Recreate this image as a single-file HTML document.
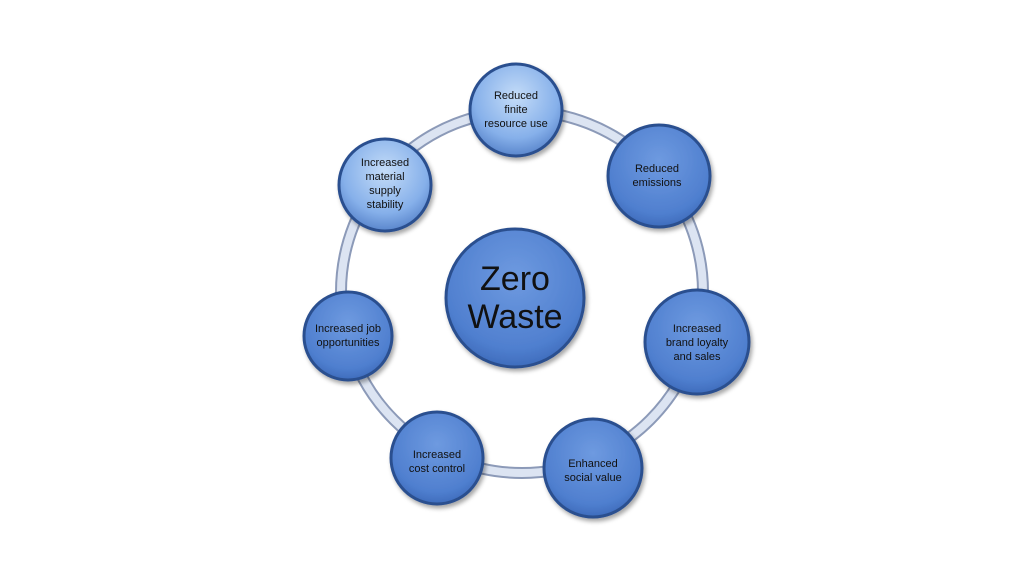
<!DOCTYPE html>
<html><head><meta charset="utf-8"><style>
html,body{margin:0;padding:0;background:#fff;}
svg{display:block;}
text{font-family:"Liberation Sans",sans-serif;fill:#111;text-anchor:middle;}
</style></head><body>
<svg width="1024" height="576" viewBox="0 0 1024 576">
<defs>
<radialGradient id="light" cx="0.5" cy="0.35" r="0.65">
<stop offset="0" stop-color="#c4dcf8"/><stop offset="0.7" stop-color="#86b0ea"/><stop offset="1" stop-color="#5a86cc"/>
</radialGradient>
<radialGradient id="mid" cx="0.5" cy="0.35" r="0.65">
<stop offset="0" stop-color="#6e9ae0"/><stop offset="0.8" stop-color="#4f7fcf"/><stop offset="1" stop-color="#3e6cbc"/>
</radialGradient>
<filter id="sh" x="-20%" y="-20%" width="140%" height="140%"><feDropShadow dx="2" dy="3" stdDeviation="2" flood-color="#000" flood-opacity="0.35"/></filter>
</defs>
<circle cx="522" cy="292" r="181" fill="none" stroke="#8c9ab8" stroke-width="12"/>
<circle cx="522" cy="292" r="181" fill="none" stroke="#dce4f2" stroke-width="8"/>
<g filter="url(#sh)" stroke="#2c4f8f" stroke-width="3">
<circle cx="515" cy="298" r="69" fill="url(#mid)"/>
<circle cx="516" cy="110" r="46" fill="url(#light)"/>
<circle cx="659" cy="176" r="51" fill="url(#mid)"/>
<circle cx="697" cy="342" r="52" fill="url(#mid)"/>
<circle cx="593" cy="468" r="49" fill="url(#mid)"/>
<circle cx="437" cy="458" r="46" fill="url(#mid)"/>
<circle cx="348" cy="336" r="44" fill="url(#mid)"/>
<circle cx="385" cy="185" r="46" fill="url(#light)"/>
</g>
<text x="515" y="290" font-size="34">Zero</text>
<text x="515" y="328" font-size="34">Waste</text>
<g font-size="11">
<text x="516" y="99">Reduced</text><text x="516" y="113">finite</text><text x="516" y="127">resource use</text>
<text x="657" y="172">Reduced</text><text x="657" y="186">emissions</text>
<text x="697" y="332">Increased</text><text x="697" y="346">brand loyalty</text><text x="697" y="360">and sales</text>
<text x="593" y="467">Enhanced</text><text x="593" y="481">social value</text>
<text x="437" y="458">Increased</text><text x="437" y="472">cost control</text>
<text x="348" y="332">Increased job</text><text x="348" y="346">opportunities</text>
<text x="385" y="166">Increased</text><text x="385" y="180">material</text><text x="385" y="194">supply</text><text x="385" y="208">stability</text>
</g>
</svg>
</body></html>
